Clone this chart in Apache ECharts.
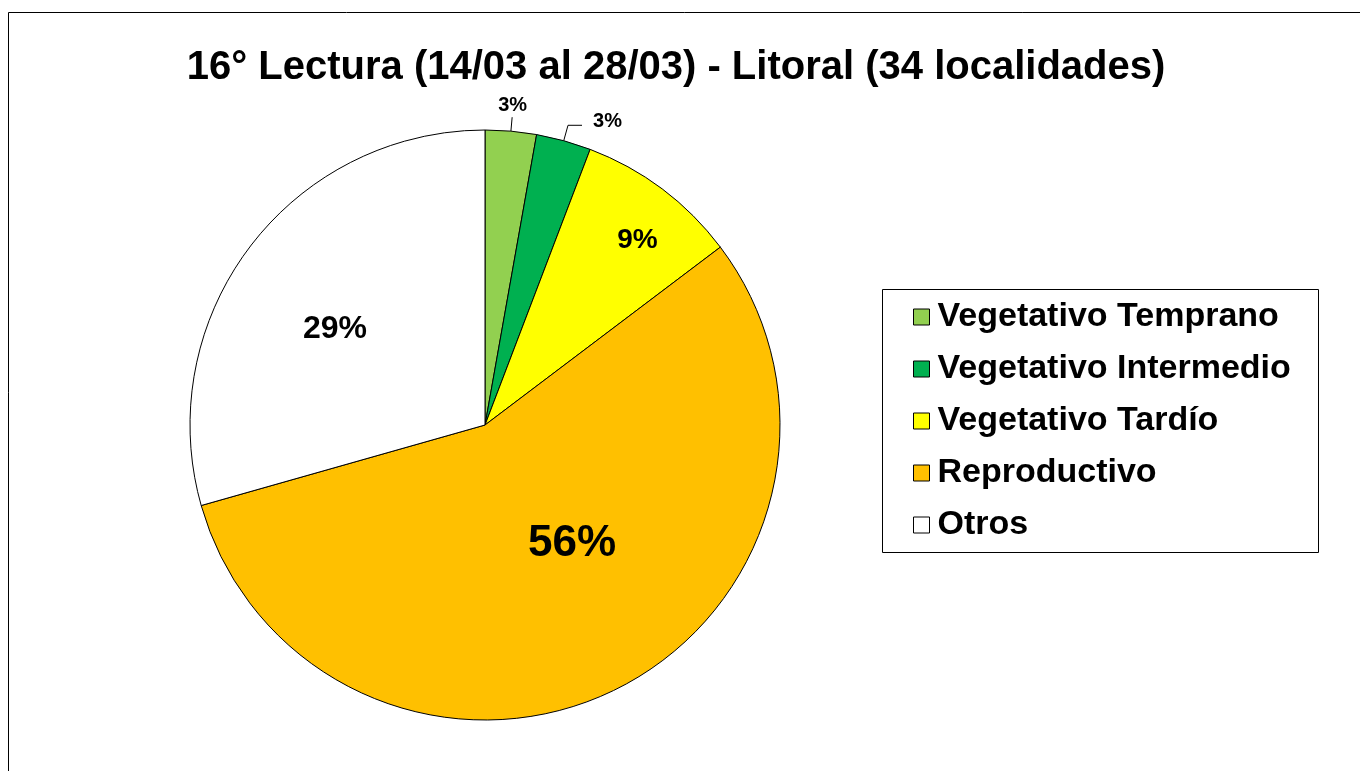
<!DOCTYPE html>
<html>
<head>
<meta charset="utf-8">
<title>16° Lectura - Litoral</title>
<script src="https://cdn.jsdelivr.net/npm/echarts@6/dist/echarts.min.js"></script>
<style>
  html, body { margin: 0; padding: 0; background: #fff; }
  #main { width: 1360px; height: 771px; }
</style>
</head>
<body>
<div id="main"></div>
<script>
// datos
var categorias = ['Vegetativo Temprano', 'Vegetativo Intermedio', 'Vegetativo Tardío', 'Reproductivo', 'Otros'];
var valores = [2.8, 3.0, 8.9, 55.9, 29.4];
var colores = ['#92D050', '#00B050', '#FFFF00', '#FFC000', '#FFFFFF'];

var fuente = '"Liberation Sans", Arial, sans-serif';

// estilos de etiqueta por porcion
var tamEtiqueta = [20, 20, 28, 44, 32];
var posEtiqueta = ['outside', 'outside', 'inside', 'inside', 'inside'];
// desplazamiento de etiquetas (como Excel)
var despl = [[-19, -12], [6, -4], [62, -64], [20, -16], [-30, -5]];

var datos = categorias.map(function (c, i) {
  var item = {
    name: c,
    value: valores[i],
    itemStyle: { color: colores[i] },
    label: {
      position: posEtiqueta[i],
      fontSize: tamEtiqueta[i]
    }
  };
  if (i === 0) item.labelLine = { length: 14, length2: 0 };
  if (i === 1) item.labelLine = { length: 16, length2: 14 };
  return item;
});

var myChart = echarts.init(document.getElementById('main'));

var option = {
  animation: false,
  backgroundColor: '#fff',
  title: {
    text: '16° Lectura (14/03 al 28/03) - Litoral (34 localidades)',
    left: 671,
    textAlign: 'center',
    top: 43,
    textStyle: { fontFamily: fuente, fontWeight: 'bold', fontSize: 40, color: '#000' }
  },
  graphic: [
    { type: 'rect', shape: { x: 8.5, y: 12.5, width: 1400, height: 800 },
      style: { fill: null, stroke: '#000', lineWidth: 1 }, silent: true },
    { type: 'rect', shape: { x: 882.5, y: 289.5, width: 436, height: 263 },
      style: { fill: '#fff', stroke: '#000', lineWidth: 1 }, silent: true, z: 0 }
  ],
  legend: {
    orient: 'vertical',
    left: 913,
    top: 299,
    padding: 0,
    itemWidth: 16,
    itemHeight: 16,
    itemGap: 16,
    icon: 'rect',
    data: categorias,
    itemStyle: { borderColor: '#000', borderWidth: 1 },
    textStyle: { fontFamily: fuente, fontWeight: 'bold', fontSize: 34, lineHeight: 36, color: '#000', padding: [0, 0, 0, 3] }
  },
  series: [{
    type: 'pie',
    center: [485, 425],
    radius: 295,
    startAngle: 90,
    clockwise: true,
    avoidLabelOverlap: false,
    itemStyle: { borderColor: '#000', borderWidth: 1 },
    label: {
      fontFamily: fuente,
      fontWeight: 'bold',
      color: '#000',
      formatter: function (p) { return Math.round(p.value) + '%'; }
    },
    labelLine: { lineStyle: { color: '#000', width: 1 } },
    labelLayout: function (p) {
      var d = despl[p.dataIndex];
      return { dx: d[0], dy: d[1] };
    },
    emphasis: { disabled: true },
    data: datos
  }]
};

myChart.setOption(option);
</script>
</body>
</html>
